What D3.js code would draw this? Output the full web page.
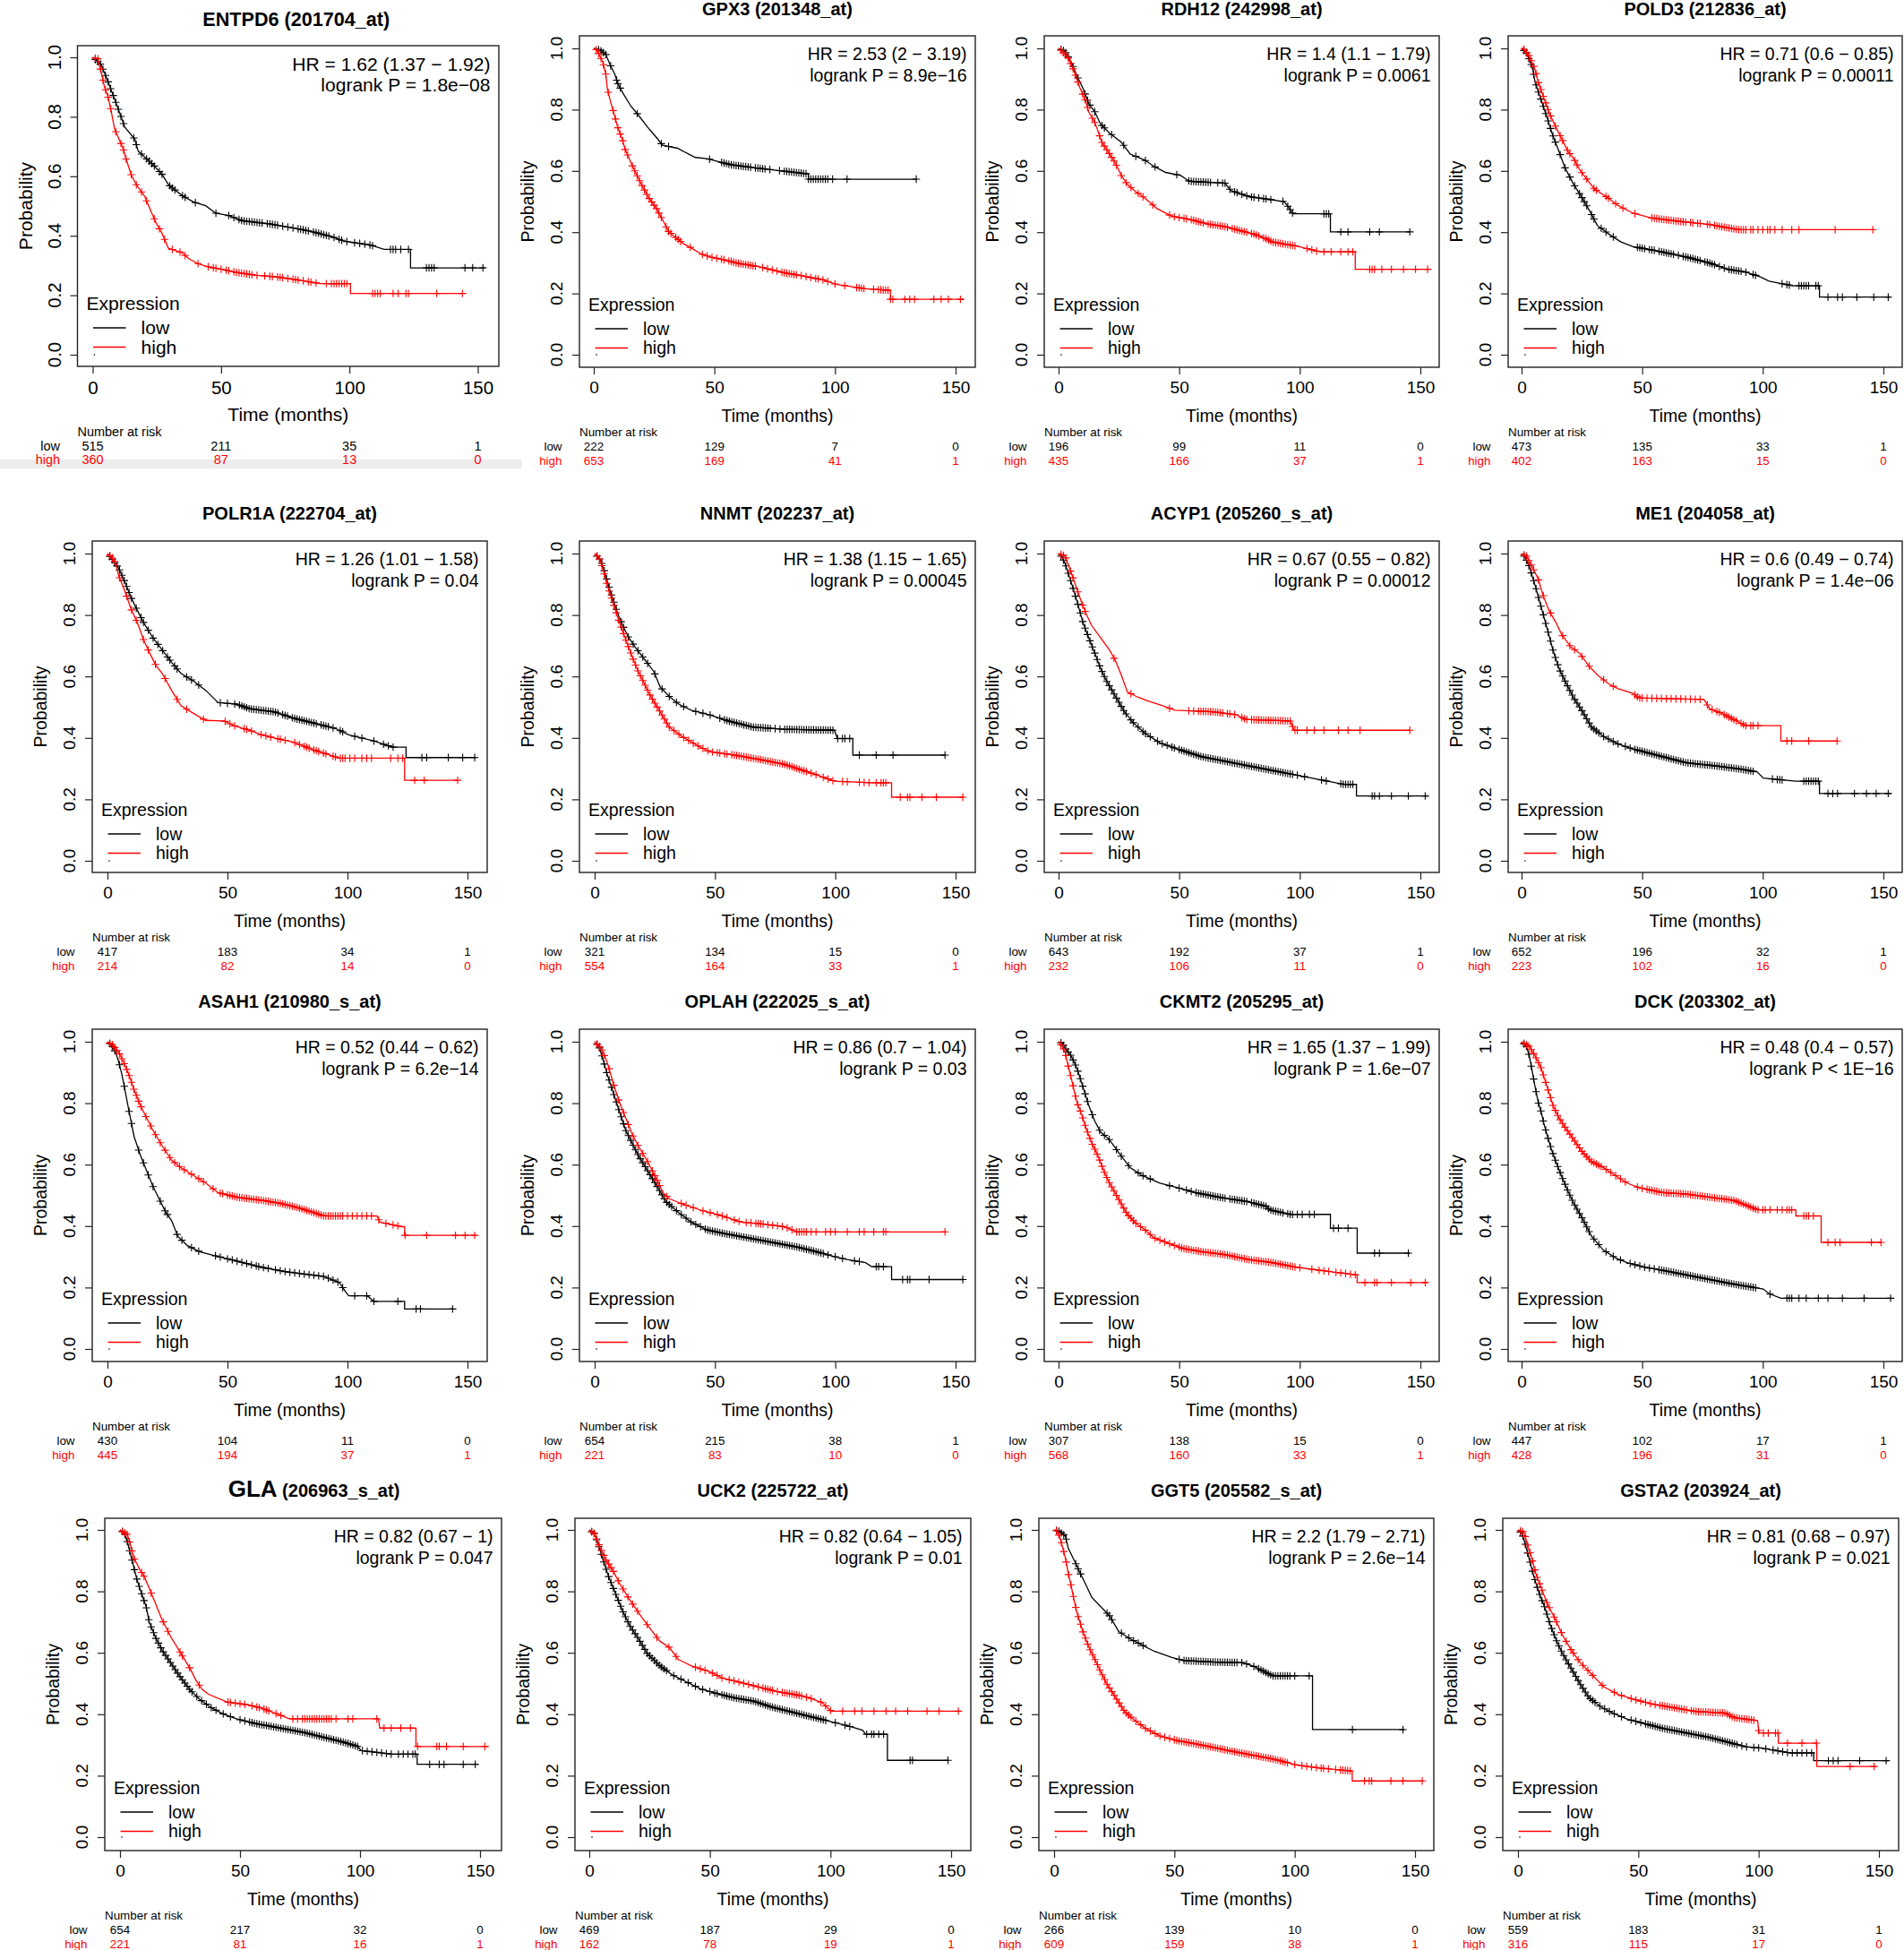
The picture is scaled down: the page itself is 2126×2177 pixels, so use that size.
<!DOCTYPE html>
<html>
<head>
<meta charset="utf-8">
<script src="https://cdn.jsdelivr.net/npm/d3@7"></script>
<style>
body { margin: 0; background: #fff; }
text { font-family: "Liberation Sans", Arial, Helvetica, sans-serif; }
</style>
</head>
<body>
<svg id="fig" width="2126" height="2177"></svg>
<script>
// ---- data ----
var genes = ["ENTPD6","GPX3","RDH12","POLD3","POLR1A","NNMT","ACYP1","ME1",
             "ASAH1","OPLAH","CKMT2","DCK","GLA","UCK2","GGT5","GSTA2"];
var probes = ["201704_at","201348_at","242998_at","212836_at","222704_at","202237_at","205260_s_at","204058_at",
              "210980_s_at","222025_s_at","205295_at","203302_at","206963_s_at","225722_at","205582_s_at","203924_at"];
var hrLabels = ["HR = 1.62 (1.37 \u2212 1.92)","HR = 2.53 (2 \u2212 3.19)","HR = 1.4 (1.1 \u2212 1.79)","HR = 0.71 (0.6 \u2212 0.85)",
                "HR = 1.26 (1.01 \u2212 1.58)","HR = 1.38 (1.15 \u2212 1.65)","HR = 0.67 (0.55 \u2212 0.82)","HR = 0.6 (0.49 \u2212 0.74)",
                "HR = 0.52 (0.44 \u2212 0.62)","HR = 0.86 (0.7 \u2212 1.04)","HR = 1.65 (1.37 \u2212 1.99)","HR = 0.48 (0.4 \u2212 0.57)",
                "HR = 0.82 (0.67 \u2212 1)","HR = 0.82 (0.64 \u2212 1.05)","HR = 2.2 (1.79 \u2212 2.71)","HR = 0.81 (0.68 \u2212 0.97)"];
var pLabels = ["logrank P = 1.8e\u221208","logrank P = 8.9e\u221216","logrank P = 0.0061","logrank P = 0.00011",
               "logrank P = 0.04","logrank P = 0.00045","logrank P = 0.00012","logrank P = 1.4e\u221206",
               "logrank P = 6.2e\u221214","logrank P = 0.03","logrank P = 1.6e\u221207","logrank P < 1E\u221216",
               "logrank P = 0.047","logrank P = 0.01","logrank P = 2.6e\u221214","logrank P = 0.021"];
var riskLow = [[515,211,35,1],[222,129,7,0],[196,99,11,0],[473,135,33,1],
               [417,183,34,1],[321,134,15,0],[643,192,37,1],[652,196,32,1],
               [430,104,11,0],[654,215,38,1],[307,138,15,0],[447,102,17,1],
               [654,217,32,0],[469,187,29,0],[266,139,10,0],[559,183,31,1]];
var riskHigh = [[360,87,13,0],[653,169,41,1],[435,166,37,1],[402,163,15,0],
                [214,82,14,0],[554,164,33,1],[232,106,11,0],[223,102,16,0],
                [445,194,37,1],[221,83,10,0],[568,160,33,1],[428,196,31,0],
                [221,81,16,1],[162,78,19,1],[609,159,38,1],[316,115,17,0]];
var timeTicks = [0, 50, 100, 150];
var probTicks = [0, 0.2, 0.4, 0.6, 0.8, 1.0];

// survival curves [time, probability], low expression group
var lowCurves = [
 [[0,1],[3.3,0.975],[5.9,0.92],[7.2,0.89],[9.8,0.83],[12.5,0.765],[16.4,0.725],[17.7,0.685],[20.3,0.664],[23.6,0.638],[26.9,0.608],[29.5,0.572],[31.5,0.557],[35.4,0.532],[39.4,0.513],[44,0.501],[47.9,0.476],[53,0.468],[58.4,0.45],[68.9,0.44],[75.5,0.43],[82,0.42],[87.3,0.41],[93.8,0.395],[97.8,0.382],[108,0.369],[113.5,0.354],[123.8,0.354],[123.8,0.292],[152.9,0.292]],
 [[0,1],[2.5,0.995],[5,0.98],[6.8,0.946],[8.7,0.916],[9.9,0.886],[12.4,0.85],[15.5,0.81],[17.9,0.788],[22.3,0.743],[26,0.709],[28.5,0.684],[34.7,0.674],[39.6,0.654],[42.1,0.644],[47,0.64],[52,0.63],[56.9,0.62],[66.8,0.61],[78,0.6],[89,0.59],[89,0.573],[133.7,0.573]],
 [[0,1],[2.7,0.99],[5.2,0.956],[7.6,0.91],[10.1,0.87],[12.5,0.82],[15,0.793],[17.4,0.753],[21.1,0.724],[26,0.694],[29.7,0.655],[35.8,0.635],[39.5,0.615],[44.4,0.595],[50.6,0.585],[54.3,0.566],[69,0.56],[71.4,0.536],[79,0.516],[83.7,0.511],[93.5,0.5],[94.8,0.487],[97.2,0.46],[112.7,0.46],[112.7,0.401],[145.6,0.401]],
 [[0,1],[2,0.985],[4.4,0.94],[5.6,0.89],[8.1,0.832],[10.6,0.773],[13,0.714],[15.5,0.664],[18,0.61],[21.6,0.556],[24,0.526],[27.7,0.477],[31.4,0.422],[36.3,0.393],[41.2,0.368],[46.2,0.353],[56,0.339],[68.3,0.319],[78,0.299],[85.4,0.279],[92.8,0.27],[99,0.254],[102.6,0.24],[112.4,0.225],[123.5,0.225],[123.5,0.188],[153,0.188]],
 [[0,1],[2.1,0.98],[4.7,0.952],[7.3,0.907],[9.8,0.857],[12.4,0.816],[15,0.776],[18.9,0.726],[22.8,0.686],[26.7,0.646],[30.6,0.61],[35.8,0.585],[40.9,0.555],[46.1,0.515],[53.9,0.51],[59.1,0.495],[69.4,0.485],[77.2,0.465],[85,0.45],[95.3,0.43],[100.5,0.41],[110.9,0.39],[118.7,0.37],[124.4,0.37],[124.4,0.336],[153.6,0.336]],
 [[0,1],[2.6,0.977],[3.9,0.947],[6.5,0.877],[9.1,0.816],[11.6,0.766],[14.2,0.726],[16.8,0.696],[20.7,0.656],[24.6,0.616],[27.2,0.566],[31,0.535],[34.9,0.51],[40.1,0.49],[47.8,0.475],[55.6,0.455],[65.9,0.435],[78.9,0.428],[99.6,0.425],[100.9,0.398],[107.3,0.398],[107.3,0.344],[145.6,0.344]],
 [[0,1],[1.5,0.987],[2.7,0.967],[5.2,0.907],[7.6,0.846],[10.1,0.776],[12.5,0.726],[15,0.676],[17.4,0.626],[19.9,0.585],[23.6,0.535],[27.3,0.485],[30.9,0.45],[35.8,0.415],[42,0.384],[49.3,0.364],[59.2,0.339],[69,0.324],[78.8,0.309],[88.6,0.294],[98.5,0.279],[108.3,0.264],[118.1,0.249],[123.5,0.249],[123.5,0.211],[153,0.211]],
 [[0,1],[1.5,0.987],[3.2,0.957],[5.6,0.897],[8.1,0.826],[10.6,0.756],[13,0.686],[15.5,0.626],[18,0.585],[21.6,0.53],[25.3,0.485],[29,0.435],[33.9,0.405],[40,0.38],[46.2,0.364],[56,0.344],[68.3,0.319],[80.5,0.309],[90.3,0.299],[97.7,0.289],[100.2,0.269],[113.7,0.259],[123.5,0.259],[123.5,0.219],[153,0.219]],
 [[0,1],[1.6,0.99],[3.4,0.965],[4.7,0.934],[6,0.894],[7.3,0.843],[8.5,0.793],[9.8,0.742],[11.1,0.691],[13.7,0.631],[16.3,0.58],[18.9,0.53],[21.5,0.489],[24.1,0.448],[26.7,0.418],[29.3,0.367],[33.2,0.337],[38.3,0.317],[46.1,0.301],[53.9,0.286],[64.2,0.266],[74.6,0.251],[90.2,0.236],[96.6,0.216],[99.2,0.186],[100.5,0.173],[108.3,0.173],[110.9,0.155],[123.8,0.155],[123.8,0.13],[143.8,0.13]],
 [[0,1],[1.8,0.985],[3.4,0.944],[5.2,0.894],[7.8,0.833],[10.3,0.772],[12.9,0.712],[15.5,0.671],[18.1,0.631],[22,0.58],[25.9,0.53],[29.7,0.479],[34.9,0.444],[40.1,0.413],[46.5,0.388],[53,0.377],[63.4,0.362],[73.7,0.347],[84.1,0.332],[91.9,0.317],[99.6,0.301],[104.8,0.291],[112.6,0.281],[115.1,0.268],[123.4,0.268],[123.4,0.226],[153.4,0.226]],
 [[0,1],[1.5,0.995],[2.7,0.98],[5.2,0.954],[7.6,0.914],[10.1,0.853],[12.5,0.793],[15,0.742],[17.4,0.706],[21.1,0.681],[24.8,0.64],[29.7,0.59],[34.6,0.565],[42,0.54],[49.3,0.525],[56.7,0.509],[66.5,0.494],[78.8,0.479],[86.2,0.464],[87.4,0.453],[96,0.438],[112.7,0.438],[112.7,0.393],[123.8,0.393],[123.8,0.312],[145.6,0.312]],
 [[0,1],[2,0.985],[3.2,0.954],[4.4,0.904],[5.6,0.853],[6.9,0.803],[8.1,0.772],[9.3,0.732],[10.6,0.696],[12.3,0.651],[14.2,0.61],[16.7,0.56],[19.2,0.514],[21.6,0.474],[25.3,0.423],[29,0.367],[33.9,0.322],[38.8,0.297],[43.7,0.281],[51.1,0.266],[58.5,0.256],[68.3,0.241],[78,0.226],[87.9,0.211],[100.2,0.195],[102.6,0.18],[107.5,0.165],[153,0.165]],
 [[0,1],[1.8,0.99],[3.1,0.96],[4.4,0.92],[5.7,0.88],[7,0.84],[9.1,0.79],[10.9,0.75],[12.2,0.7],[14.8,0.65],[17.4,0.61],[20,0.58],[22.6,0.55],[25.2,0.52],[29.1,0.48],[33,0.45],[38.2,0.42],[43.3,0.4],[48.5,0.385],[56.3,0.37],[66.7,0.355],[77.1,0.34],[84.9,0.325],[92.7,0.31],[99.1,0.295],[100.4,0.282],[113.4,0.27],[123.8,0.27],[123.8,0.237],[149.2,0.237]],
 [[0,1],[2.1,0.988],[3.9,0.948],[5.9,0.898],[8,0.848],[10.6,0.798],[13.7,0.738],[16.8,0.688],[20.2,0.648],[24,0.598],[29.2,0.558],[34.4,0.528],[39.6,0.508],[46,0.483],[52.5,0.468],[60.3,0.453],[68,0.443],[75.8,0.423],[83.5,0.408],[91.3,0.393],[99,0.378],[106.8,0.363],[113.3,0.348],[114.6,0.335],[123.6,0.335],[123.6,0.25],[148.7,0.25]],
 [[0,1],[2.2,0.995],[4.7,0.98],[5.9,0.94],[8.4,0.9],[10.8,0.86],[13.3,0.82],[15.7,0.78],[19.4,0.75],[23.1,0.72],[26.8,0.67],[31.7,0.645],[36.6,0.625],[41.6,0.605],[48.9,0.585],[53.8,0.575],[66.1,0.57],[78.4,0.568],[83.3,0.555],[88.3,0.535],[90.7,0.525],[107.4,0.525],[107.4,0.35],[145.6,0.35]],
 [[0,1],[1.7,0.988],[3.2,0.948],[4.9,0.898],[6.6,0.848],[8.6,0.798],[11.1,0.748],[13.5,0.689],[16,0.639],[18.4,0.599],[22.1,0.549],[25.8,0.499],[29.5,0.454],[34.4,0.424],[39.3,0.404],[45.5,0.384],[52.9,0.369],[60.2,0.354],[70.1,0.339],[79.9,0.324],[87.3,0.309],[94.7,0.294],[102,0.289],[113.1,0.274],[122.9,0.274],[122.9,0.249],[153.7,0.249]]
];

// survival curves [time, probability], high expression group
var highCurves = [
 [[0,1],[2,0.995],[3.3,0.95],[4.6,0.9],[5.9,0.87],[7.2,0.82],[8.5,0.76],[10.5,0.72],[11.8,0.695],[13.1,0.655],[15.1,0.603],[17.1,0.57],[20.3,0.532],[23,0.476],[24.9,0.44],[26.9,0.41],[29.5,0.358],[34.8,0.343],[37.4,0.323],[41.3,0.305],[45.3,0.295],[50.5,0.287],[55.8,0.277],[63.6,0.267],[71.5,0.262],[79.4,0.252],[88.6,0.239],[100.4,0.239],[100.4,0.206],[144,0.206]],
 [[0,1],[1.2,0.995],[2.5,0.975],[3.7,0.956],[5,0.916],[5.6,0.87],[6.8,0.83],[8.7,0.778],[9.9,0.743],[11.8,0.704],[13,0.67],[15.5,0.625],[17.3,0.595],[20.4,0.546],[22.9,0.511],[26,0.477],[29.1,0.432],[30.9,0.403],[34.7,0.378],[37.1,0.363],[40.8,0.347],[44.5,0.329],[48.3,0.319],[54.5,0.309],[59.4,0.299],[69.3,0.286],[78,0.269],[86.6,0.257],[95.3,0.244],[100.3,0.23],[112.6,0.215],[123,0.21],[123,0.181],[153.5,0.181]],
 [[0,1],[1.5,0.99],[3.9,0.97],[6.4,0.926],[8.8,0.872],[11.3,0.827],[12.5,0.793],[15,0.758],[16.2,0.733],[17.9,0.694],[20.4,0.664],[23.6,0.625],[26,0.585],[28.5,0.556],[32.2,0.531],[35.8,0.511],[40.8,0.477],[46.9,0.452],[54.3,0.442],[61.6,0.427],[69,0.418],[76.4,0.403],[81.3,0.393],[86.2,0.378],[88.6,0.368],[99.7,0.353],[108.3,0.336],[123,0.336],[123,0.279],[153,0.279]],
 [[0,1],[0.7,1],[3.2,0.975],[5.6,0.93],[6.9,0.89],[9.3,0.837],[11.8,0.783],[14.2,0.743],[16.7,0.704],[19.2,0.664],[21.6,0.64],[24,0.605],[27.7,0.566],[30.2,0.541],[35.1,0.516],[40,0.487],[46.2,0.462],[53.5,0.447],[63.4,0.437],[78,0.425],[84.2,0.416],[90.3,0.408],[145.6,0.408]],
 [[0,1],[1.6,0.99],[3.4,0.97],[4.7,0.927],[7.3,0.877],[9.8,0.82],[12.4,0.776],[15,0.72],[17.6,0.676],[20.2,0.636],[22.8,0.61],[26.7,0.555],[30.6,0.505],[35.8,0.48],[40.9,0.457],[48.7,0.455],[52.6,0.44],[59.1,0.425],[64.2,0.41],[69.4,0.4],[77.2,0.387],[86.3,0.36],[96.6,0.334],[123.8,0.334],[123.8,0.262],[145.9,0.262]],
 [[0,1],[1.8,0.987],[3.4,0.952],[5.2,0.897],[7.8,0.836],[10.3,0.776],[12.9,0.72],[15.5,0.666],[18.1,0.616],[20.7,0.576],[23.3,0.535],[27.2,0.485],[31,0.435],[36.2,0.405],[42.7,0.375],[47.8,0.355],[58.2,0.344],[68.5,0.33],[78.9,0.314],[86.6,0.294],[94.4,0.274],[99.6,0.259],[115,0.254],[123.4,0.254],[123.4,0.207],[153.4,0.207]],
 [[0,1],[2.7,0.992],[3.9,0.967],[6.4,0.912],[8.8,0.857],[11.3,0.806],[13.7,0.766],[17.4,0.726],[21.1,0.686],[23.6,0.651],[26,0.605],[28.5,0.55],[32.2,0.535],[37.1,0.52],[43.2,0.505],[48.1,0.49],[64.1,0.485],[73.9,0.475],[77.6,0.46],[96,0.455],[97.7,0.425],[145.6,0.425]],
 [[0,1],[2,0.992],[4.4,0.957],[6.9,0.917],[8.8,0.867],[11.3,0.816],[14.2,0.776],[16.7,0.736],[20.4,0.696],[24,0.676],[27.7,0.636],[31.4,0.605],[36.3,0.575],[40,0.56],[46.2,0.545],[48.6,0.53],[75.6,0.525],[78,0.495],[83,0.48],[87.9,0.46],[92.8,0.44],[107.5,0.44],[107.5,0.39],[130.8,0.39]],
 [[0,1],[2.1,0.99],[4.7,0.965],[7.3,0.924],[9.3,0.884],[11.1,0.843],[13.7,0.793],[16.3,0.752],[18.9,0.712],[22.8,0.661],[26.7,0.615],[30.6,0.59],[35.8,0.565],[40.9,0.54],[46.1,0.509],[53.9,0.494],[64.2,0.484],[72,0.474],[79.8,0.459],[86.3,0.443],[90.2,0.433],[112.2,0.433],[113.5,0.413],[122.5,0.398],[123.8,0.398],[123.8,0.37],[153.6,0.37]],
 [[0,1],[2.6,0.98],[5.2,0.934],[7.8,0.863],[10.3,0.803],[12.9,0.752],[15.5,0.701],[18.1,0.661],[22,0.61],[25.9,0.55],[28.4,0.509],[31,0.489],[37.5,0.469],[45.3,0.449],[53,0.433],[60.8,0.413],[68.5,0.408],[78.9,0.398],[84.1,0.381],[145.6,0.381]],
 [[0,1],[1.5,0.985],[2.7,0.965],[3.9,0.924],[5.2,0.884],[6.4,0.843],[7.6,0.803],[9.6,0.762],[11.3,0.721],[13.7,0.671],[16.2,0.631],[18.7,0.58],[21.1,0.54],[24.8,0.489],[28.5,0.438],[32.2,0.408],[35.8,0.388],[39.5,0.362],[44.4,0.347],[51.7,0.327],[59.1,0.317],[69,0.307],[78.8,0.291],[88.6,0.281],[98.5,0.266],[113.2,0.251],[123.8,0.241],[123.8,0.216],[153,0.216]],
 [[0,1],[3.2,0.985],[5.6,0.954],[8.1,0.914],[10.6,0.853],[13,0.793],[15.5,0.752],[18,0.722],[21.6,0.681],[25.3,0.64],[29,0.61],[33.9,0.59],[38.8,0.565],[43.7,0.54],[48.6,0.525],[58.5,0.509],[68.3,0.504],[78,0.494],[87.9,0.484],[92.8,0.469],[97.7,0.453],[113.7,0.453],[113.7,0.433],[124.2,0.433],[124.2,0.347],[149.3,0.347]],
 [[0,1],[3.1,0.985],[4.4,0.95],[5.7,0.91],[8.3,0.87],[10.1,0.848],[12.2,0.81],[14.8,0.76],[17.4,0.71],[21.3,0.65],[25.2,0.6],[29.1,0.55],[31.7,0.51],[34.3,0.48],[36.9,0.465],[44.6,0.44],[53.7,0.43],[58.9,0.42],[64.1,0.405],[70.6,0.385],[107.7,0.385],[108.2,0.355],[123.3,0.355],[123.3,0.295],[153.6,0.295]],
 [[0,1],[2.1,0.988],[4.7,0.938],[7.2,0.898],[9.8,0.868],[12.4,0.828],[16.3,0.778],[18.9,0.748],[21.5,0.718],[25.3,0.678],[29.2,0.638],[33.1,0.618],[37,0.578],[42.2,0.558],[49.9,0.538],[55.1,0.518],[62.9,0.503],[70.6,0.488],[78.4,0.473],[86.1,0.463],[91.3,0.453],[96.5,0.438],[100.3,0.41],[153.3,0.41]],
 [[0,1],[1,0.998],[2.2,0.98],[3.4,0.948],[4.7,0.908],[5.9,0.858],[7.1,0.818],[8.4,0.768],[9.6,0.728],[12,0.668],[14.5,0.618],[17,0.578],[19.4,0.538],[21.9,0.499],[25.6,0.454],[29.3,0.409],[32.9,0.384],[37.9,0.354],[44,0.329],[51.4,0.314],[61.2,0.3],[71.1,0.284],[80.9,0.269],[90.7,0.255],[100.6,0.235],[110.4,0.225],[123.9,0.215],[123.9,0.183],[153.4,0.183]],
 [[0,1],[2.5,0.993],[3.7,0.958],[5.7,0.908],[7.4,0.858],[9.8,0.808],[12.3,0.758],[15.5,0.709],[18.4,0.659],[22.1,0.609],[25.8,0.569],[30.7,0.529],[35.7,0.489],[41.8,0.464],[47.9,0.449],[55.3,0.434],[62.7,0.424],[73.8,0.409],[86.1,0.404],[89.8,0.389],[99.6,0.379],[100.1,0.339],[108.2,0.339],[108.2,0.306],[124.2,0.306],[124.2,0.23],[148.8,0.23]]
];

// censoring times (months)
var lowCensor = [
 [1,2,3,4,5,6,7,8,9,10,11,12,16,17,19,21,22,23,24,26,27,30,31,32,35,36,40,48,53,55,57,58,59,60,61,62,63,64,65,66,68,69,70,71,72,74,76,78,80,81,82,83,84,86,87,88,89,90,91,92,94,96,97,99,102,104,106,108,109,116,117,118,120,123,130,131,132,133,145,148,152],
 [2,3,4,5,7,9.5,10,11,18,28,31,48,53,54,55,56,57,58,59,60,61,62,63,64,65,67,68,69,70,71,73,77,79,80,81,82,83,84,85,86,87,88,89,90,91,92,93,94,95,96,97,99,105,133.7],
 [1,2,3,4,6,8,11,12,13,15,18,19,22,27,32,36,40,49,54,55,56,57,58,59,60,61,62,63,66,68,69,71,73,74,76,78,80,81,83,85,86,88,93,95,96,97,110,111,112,117,120,129,133,145.6],
 [1,2,3,4,5,6,7,8,9,10,11,12,13,14,16,18,20,22,24,25,26,27,29,30,33,35,38,48,49,50,51,53,54,55,57,58,59,60,61,62,63,65,67,68,69,70,71,72,73,74,76,77,78,79,80,82,84,86,87,88,89,90,91,93,96,97,108,110,111,115,116,117,118,119,122,123,127,131,133,139,146,152],
 [1,2,3,4,5,6,7,8,9,10,12,14,15,17,19,21,23,25,26,28,29,33,35,38,47,50,53,55,56,57,58,59,60,61,62,63,64,65,66,67,68,69,70,71,73,74,75,77,78,79,80,81,82,83,84,85,86,87,89,90,91,92,94,97,98,103,106,111,115,117,119,131,133,142,148,153],
 [1,2,3,4,5,6,7,8,9,11,12,14,16,18,20,22,25,28,31,34,37,42,45,48,52,54,55,56,57,58,59,60,61,62,63,64,65,66,67,68,69,70,71,72,73,75,77,79,80,81,82,83,84,85,86,87,88,89,90,91,92,93,94,95,96,97,98,99,101,103,104,106,110,117,124,145.6],
 [1,2,3,4,5,6,7,8,9,10,11,12,13,14,15,16,17,18,19,20,21,22,23,24,25,26,27,28,30,31,33,35,36,38,41,43,45,47,48,50,51,52,53,54,55,56,57,58,59,60,61,62,63,64,65,66,67,68,69,70,71,72,73,74,75,76,77,78,79,80,81,82,83,84,85,86,87,88,89,90,91,92,93,94,95,96,97,99,102,109,111,117,118,119,120,121,122,130,131,133,138,145,152],
 [1,2,3,4,5,6,7,8,9,10,11,12,13,14,15,16,17,18,19,20,21,22,23,24,25,26,27,28,29,30,31,32,34,36,38,40,43,45,47,48,49,50,51,52,53,54,55,56,57,58,59,60,61,62,63,64,65,66,67,68,69,70,71,72,73,74,75,76,77,78,79,80,81,82,83,84,85,86,87,88,89,90,91,92,93,94,95,96,104,106,107,108,117,118,119,120,121,122,123,127,129,131,138,143,147,152],
 [1,2,3,5,7,9,10,13,15,17,19,22,24,25,29,31,35,38,45,47,50,52,54,56,58,60,62,63,65,67,70,72,74,76,78,80,82,84,86,88,90,92,94,96,98,103,108,111,121,128.6,130.4,143.8],
 [1,2,3,4,5,6,7,8,9,10,11,12,13,14,15,16,17,18,19,20,21,22,23,24,25,26,27,28,29,30,31,32,34,36,38,40,42,44,46,47,48,49,50,51,52,53,54,55,56,57,58,59,60,61,62,63,64,65,66,67,68,69,70,71,72,73,74,75,76,77,78,79,80,81,82,83,84,85,86,87,88,89,90,91,92,93,94,95,97,100,103,108,110,117,118,120,128,130,131,139,153],
 [1,2,3,4,5,6,7,8,9,10,11,12,14,17,19,21,24,26,29,33,35,38,46,50,53,55,57,58,59,60,61,62,63,64,65,66,67,68,69,71,72,73,74,75,76,77,78,80,81,82,83,84,85,86,87,88,89,90,91,92,93,95,96,97,99,101,104,106,114,116,120,131,133,145],
 [1,2,3,4,5,6,7,8,9,10,11,12,13,14,15,16,17,18,19,20,21,22,23,24,25,26,27,28,30,32,35,38,41,45,47,49,51,53,55,57,58,59,60,61,62,63,64,65,66,67,68,69,70,71,72,73,74,75,76,77,78,79,80,81,82,83,84,85,86,87,88,89,90,91,92,93,94,95,96,97,103,110,111,112,115,118,123,127,133,142,153],
 [1,2,3,4,5,6,7,8,9,10,11,12,13,14,15,16,17,18,19,20,21,22,23,24,25,26,27,28,29,30,32,34,36,38,40,43,46,50,52,54,55,56,57,58,59,60,61,62,63,64,65,66,67,68,69,70,71,72,73,74,75,76,77,78,79,80,81,82,83,84,85,86,87,88,89,90,91,92,93,94,95,96,97,98,99,101,103,105,107,109,111,113,116,118,120,122,123,129,133,135,143,148],
 [1,2,3,4,5,6,7,8,9,10,11,12,13,14,15,16,17,18,19,20,21,22,23,24,25,26,27,28,29,30,31,32,35,38,41,44,47,50,52,53,55,56,57,58,59,60,61,62,63,64,65,66,67,68,69,70,71,72,73,74,75,76,77,78,79,80,81,82,83,84,85,86,87,88,89,90,91,92,93,94,95,96,97,98,102,106,108,115,117,118,120,122,133,134,148.7],
 [1,2,3,4,5,9,10,11,22,23,24,28,31,33,35,37,52,54,55,56,57,58,59,60,61,62,63,64,65,66,67,68,69,70,71,72,73,74,75,76,78,80,83,85,86,87,88,89,90,91,92,93,94,95,96,97,98,100,106,124,145],
 [1,2,3,4,5,6,7,8,9,10,11,12,13,14,15,16,17,18,19,20,21,22,23,24,25,26,27,28,29,30,31,32,34,36,38,40,43,47,49,51,53,54,55,56,57,58,59,60,61,62,63,64,65,66,67,68,69,70,71,72,73,74,75,76,77,78,79,80,81,82,83,84,85,86,87,88,89,90,91,93,95,98,100,103,106,108,110,112,114,116,118,120,122,129,131,133,142,153]
];
var highCensor = [
 [1,2,3,4,5,6,7,9,11,12,13,15,17,19,21,24,26,28,31,34,36,41,45,47,48,50,52,53,55,56,57,58,59,60,61,62,64,67,69,70,72,73,74,76,78,79,80,82,84,85,87,91,93,94,95,96,97,98,99,109,110,111,112,117,119,122,123,134,144],
 [1,2,3,4,5,6,8,9,10,11,12,13,14,16,17,18,19,20,21,22,23,24,25,26,27,28,30,31,32,34,35,36,40,45,47,49,51,53,54,56,57,58,59,60,61,62,63,64,65,66,67,70,72,74,76,78,79,80,81,82,83,84,86,88,90,92,93,95,97,100,104,109,110,111,112,116,118,119,120,121,122,123,124,129,131,133,141,144,147,152],
 [1,2,3,4,5,6,7,8,10,11,12,14,15,17,18,19,20,21,22,23,24,26,28,30,33,35,39,46,48,50,52,53,55,56,57,58,59,60,62,63,64,65,66,67,68,69,70,72,73,74,75,76,77,78,80,81,82,83,85,86,87,88,89,90,91,92,93,94,95,96,97,98,103,105,107,110,113,117,120,122,129,130,131,134,138,143,148,153],
 [1,2,3,4,5,6,7,8,9,10,11,12,14,16,17,19,20,22,23,25,27,30,31,35,36,39,42,47,54,55,56,57,58,59,60,61,62,63,64,65,66,67,68,70,71,73,74,77,78,80,81,82,83,84,85,86,87,88,89,90,91,92,93,95,96,98,100,102,103,105,108,112,115,130,145.6],
 [1,2,3,5,8,10,12,15,17,20,24,29,33,40,49,51,53,57,58,60,64,66,68,71,72,74,78,80,82,83,84,86,87,88,90,91,94,95,97,98,99,101,103,106,108,110,118,121,123,128,132,145.9],
 [1,2,3,4,5,6,7,8,9,10,11,12,13,14,15,16,17,18,19,20,21,22,23,24,25,26,27,28,29,30,31,33,35,37,39,41,43,45,47,49,51,52,54,55,57,58,59,60,61,62,63,64,65,66,67,68,69,70,71,72,73,74,75,76,77,78,79,80,81,82,83,84,85,86,87,88,90,92,95,97,99,103,105,110,112,114,117,119,120,121,127,130,131,136,142,153],
 [1,2,3,5,6,8,10,11,23,30,46,54,56,58,59,60,61,62,63,64,65,66,67,68,70,71,73,76,77,78,80,81,82,83,84,85,86,87,88,89,90,91,92,93,94,95,96,97,98,99,103,106,110,116,120,125,145.6],
 [1,2,3,4,5,7,9,12,17,20,22,25,28,34,38,47,48,49,50,52,54,56,58,60,62,64,66,68,70,72,74,77,79,81,82,84,85,86,87,88,89,91,92,93,95,96,98,110,112,119,130.8],
 [1,2,3,4,5,6,7,8,9,10,11,12,13,14,16,18,20,22,24,26,28,30,32,35,38,40,44,47,48,50,51,52,53,54,55,56,57,58,59,60,61,62,63,64,65,66,67,68,69,70,71,72,73,74,75,76,77,78,79,80,81,82,83,84,85,86,87,88,89,90,91,92,93,94,95,96,97,98,100,102,104,106,108,110,113,116,119,121,124,133,145,149,153],
 [1,2,3,4,6,8,10,12,14,16,18,20,22,24,25,26,27,30,36,38,41,45,48,51,53,55,58,60,63,65,67,68,69,70,72,74,76,78,80,82,84,85,86,87,88,90,92,96,98,100,105,110,112,116,120,121,145.6],
 [1,2,3,4,5,6,7,8,9,10,11,12,13,14,15,16,17,18,19,20,21,22,23,24,25,26,27,28,29,30,31,32,34,36,38,40,42,44,46,48,50,51,52,53,54,55,56,57,58,59,60,61,62,63,64,65,66,67,68,69,70,71,72,73,74,75,76,77,78,79,80,81,82,83,84,85,86,87,88,89,90,91,92,93,94,95,96,97,98,100,105,108,110,112,115,117,119,121,123,127,131,132,138,146,152],
 [1,2,3,4,5,6,7,8,9,10,11,12,13,14,15,16,17,18,19,20,21,22,23,24,25,26,27,28,29,30,31,32,33,35,37,39,41,43,48,50,52,53,54,55,56,57,58,59,60,61,62,63,64,65,66,67,68,69,70,71,72,73,74,75,76,77,78,79,80,81,82,83,84,85,86,87,88,89,90,91,92,93,94,95,96,97,98,100,101,103,106,108,110,111,112,117,118,119,121,127,130,132,145,149],
 [1,2,3,4,5,6,9,10,13,18,20,25,26,29,33,45,46,48,50,52,55,57,58,60,61,62,65,67,72,74,76,77,78,79,80,81,82,83,84,85,86,87,88,90,95,97,107,110,113,117,121,124,132,133,136,143,152],
 [1,2,3,4,5,6,7,8,9,10,12,14,16,18,20,24,28,33,36,44,46,48,51,53,55,58,60,62,64,66,68,70,72,73,74,75,76,78,80,81,82,83,84,85,86,87,88,90,92,96,98,100,105,110,113,118,123,127,132,140,145,153],
 [1,2,3,4,5,6,7,8,9,10,11,12,13,14,15,16,17,18,19,20,21,22,23,24,25,26,27,28,29,30,31,32,34,36,38,40,42,44,46,48,50,51,52,53,54,55,56,57,58,59,60,61,62,63,64,65,66,67,68,69,70,71,72,73,74,75,76,77,78,79,80,81,82,83,84,85,86,87,88,89,90,91,92,93,94,95,96,97,100,103,105,107,109,111,112,114,117,119,120,121,122,123,129,131,132,140,145,153],
 [1,2,3,4,5,6,7,8,9,10,12,13,15,16,18,20,22,23,25,27,29,31,35,40,43,47,49,51,53,55,57,59,60,61,62,63,64,65,66,67,68,69,70,72,73,74,75,76,77,78,79,80,81,82,83,84,85,86,87,88,89,90,91,92,93,94,95,96,97,98,100,102,104,107,108,112,118,124,138,148]
];

// ---- layout (pixel boxes of the 16 panels) ----
var boxes = [
 {x:86.5,y:51,w:470.5,h:358,x0:103.5,x150:533.5,y1:64,y0:396,tdx:9,ty:29,fs:1.08},
 {x:647,y:40,w:442,h:370,x0:663,x150:1067,y1:54,y0:396,ty:17},
 {x:1166,y:40,w:441,h:370,x0:1182,x150:1586,y1:54,y0:396,ty:17},
 {x:1684,y:40,w:440,h:370,x0:1699,x150:2103,y1:54,y0:396,ty:17},
 {x:103,y:604,w:441,h:370,x0:120,x150:522,y1:618,y0:961},
 {x:647,y:604,w:442,h:370,x0:664,x150:1067,y1:618,y0:961},
 {x:1166,y:604,w:441,h:370,x0:1182,x150:1586,y1:618,y0:961},
 {x:1684,y:604,w:440,h:370,x0:1699,x150:2103,y1:618,y0:961},
 {x:103,y:1149,w:441,h:371,x0:120,x150:522,y1:1163,y0:1506},
 {x:647,y:1149,w:442,h:371,x0:664,x150:1067,y1:1163,y0:1506},
 {x:1166,y:1149,w:441,h:371,x0:1182,x150:1586,y1:1163,y0:1506},
 {x:1684,y:1149,w:440,h:371,x0:1699,x150:2103,y1:1163,y0:1506},
 {x:117,y:1695,w:443,h:371,x0:134,x150:536,y1:1708,y0:2051,tdx:12,geneSize:26},
 {x:642,y:1695,w:442,h:371,x0:658,x150:1062,y1:1708,y0:2051},
 {x:1160,y:1695,w:441,h:371,x0:1177,x150:1580,y1:1708,y0:2051},
 {x:1678,y:1695,w:442,h:371,x0:1695,x150:2098,y1:1708,y0:2051}
];

var LOW_COL = "#000", HIGH_COL = "#ff0000";
var svg = d3.select("#fig");

// faint grey strip under the first panel
svg.append("rect").attr("x", 0).attr("y", 513).attr("width", 583).attr("height", 10).attr("fill", "#ededed");

function survAt(knots, t) {
  var i = d3.bisector(function(d){ return d[0]; }).right(knots, t) - 1;
  if (i < 0) return knots[0][1];
  if (i >= knots.length - 1) return knots[knots.length - 1][1];
  var a = knots[i], b = knots[i + 1];
  if (b[0] === a[0]) return b[1];
  return a[1] + (b[1] - a[1]) * (t - a[0]) / (b[0] - a[0]);
}

function drawPanel(b, i) {
  var fs = b.fs || 1;
  var g = svg.append("g");
  var x = d3.scaleLinear().domain([0, 150]).range([b.x0, b.x150]);
  var y = d3.scaleLinear().domain([0, 1]).range([b.y0, b.y1]);
  var bottom = b.y + b.h, right = b.x + b.w, cx = b.x + b.w / 2;

  // title
  var title = g.append("text")
    .attr("x", cx + (b.tdx || 0)).attr("y", b.ty || (b.y - 24.5))
    .attr("text-anchor", "middle").attr("font-weight", "bold").attr("font-size", 20 * fs);
  title.append("tspan").attr("font-size", (b.geneSize || 20) * fs).text(genes[i]);
  title.append("tspan").text(" (" + probes[i] + ")");

  // axes
  var xa = g.append("g").attr("transform", "translate(0," + bottom + ")")
    .call(d3.axisBottom(x).tickValues(timeTicks).tickSize(8).tickPadding(8).tickFormat(d3.format("d")));
  xa.select(".domain").remove();
  xa.selectAll("line").attr("stroke", "#222").attr("stroke-width", 1.2);
  xa.selectAll("text").attr("font-size", 19 * fs).attr("fill", "#000")
    .attr("font-family", "Liberation Sans, Arial, sans-serif");

  var ya = g.append("g").attr("transform", "translate(" + b.x + ",0)")
    .call(d3.axisLeft(y).tickValues(probTicks).tickSize(8).tickFormat(""));
  ya.select(".domain").remove();
  ya.selectAll("line").attr("stroke", "#222").attr("stroke-width", 1.2);
  g.selectAll(".ytl").data(probTicks).enter().append("text")
    .attr("transform", function(d){ return "translate(" + (b.x - 26) + "," + y(d) + ") rotate(-90)"; })
    .attr("text-anchor", "middle").attr("dy", "0.35em").attr("font-size", 19 * fs)
    .text(d3.format(".1f"));

  g.append("text").attr("x", cx).attr("y", bottom + 61).attr("text-anchor", "middle")
    .attr("font-size", 19.5 * fs).text("Time (months)");
  g.append("text")
    .attr("transform", "translate(" + (b.x - 58) + "," + (b.y + b.h / 2) + ") rotate(-90)")
    .attr("text-anchor", "middle").attr("dy", "0.35em").attr("font-size", 19.5 * fs).text("Probability");

  // curves
  var line = d3.line().x(function(d){ return x(d[0]); }).y(function(d){ return y(d[1]); });
  var groups = [
    {knots: lowCurves[i], cens: lowCensor[i], col: LOW_COL},
    {knots: highCurves[i], cens: highCensor[i], col: HIGH_COL}
  ];
  groups.forEach(function(s) {
    g.append("path").attr("d", line(s.knots)).attr("fill", "none")
      .attr("stroke", s.col).attr("stroke-width", 1.3);
    var tEnd = s.knots[s.knots.length - 1][0];
    g.selectAll(null).data(s.cens).enter().append("path")
      .attr("transform", function(t){ var tt = Math.min(t, tEnd); return "translate(" + x(tt) + "," + y(survAt(s.knots, tt)) + ")"; })
      .attr("d", "M-4.2,0H4.2M0,-4.2V4.2")
      .attr("stroke", s.col).attr("stroke-width", 1.1).attr("fill", "none");
  });

  // box
  g.append("rect").attr("x", b.x).attr("y", b.y).attr("width", b.w).attr("height", b.h)
    .attr("fill", "none").attr("stroke", "#222").attr("stroke-width", 1.4);

  // stats
  g.append("text").attr("x", right - 9.5).attr("y", b.y + 20.5).attr("dy", "0.35em")
    .attr("text-anchor", "end").attr("font-size", 19.5 * fs).text(hrLabels[i]);
  g.append("text").attr("x", right - 9.5).attr("y", b.y + 44).attr("dy", "0.35em")
    .attr("text-anchor", "end").attr("font-size", 19.5 * fs).text(pLabels[i]);

  // legend
  g.append("text").attr("x", b.x + 10).attr("y", bottom - 70).attr("dy", "0.35em")
    .attr("font-size", 19.5 * fs).text("Expression");
  [["low", LOW_COL, bottom - 43], ["high", HIGH_COL, bottom - 21.5]].forEach(function(l) {
    g.append("line").attr("x1", b.x + 17.5).attr("x2", b.x + 54).attr("y1", l[2]).attr("y2", l[2])
      .attr("stroke", l[1]).attr("stroke-width", 1.3);
    g.append("text").attr("x", b.x + 71).attr("y", l[2]).attr("dy", "0.35em")
      .attr("font-size", 19.5 * fs).text(l[0]);
  });
  g.append("circle").attr("cx", b.x + 19).attr("cy", b.y0).attr("r", 0.8).attr("fill", "#000");

  // numbers at risk
  g.append("text").attr("x", b.x).attr("y", bottom + 72.5).attr("dy", "0.35em")
    .attr("font-size", 13.4 * fs).text("Number at risk");
  [["low", riskLow[i], "#000", bottom + 88.5], ["high", riskHigh[i], HIGH_COL, bottom + 104]].forEach(function(r) {
    g.append("text").attr("x", b.x - 19.5).attr("y", r[3]).attr("dy", "0.35em")
      .attr("text-anchor", "end").attr("font-size", 13.4 * fs).attr("fill", r[2]).text(r[0]);
    g.selectAll(null).data(r[1]).enter().append("text")
      .attr("x", function(d, k){ return x(timeTicks[k]); }).attr("y", r[3]).attr("dy", "0.35em")
      .attr("text-anchor", "middle").attr("font-size", 13.4 * fs).attr("fill", r[2])
      .text(function(d){ return d; });
  });
}

boxes.forEach(drawPanel);
</script>
</body>
</html>
